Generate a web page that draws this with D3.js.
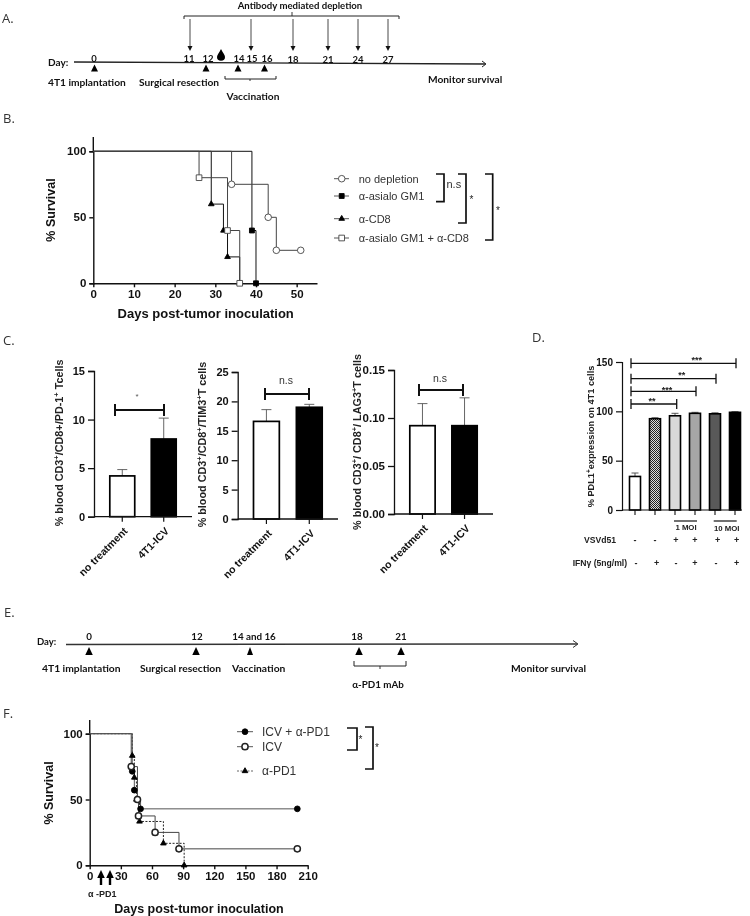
<!DOCTYPE html>
<html><head><meta charset="utf-8">
<script src="https://cdnjs.cloudflare.com/ajax/libs/d3/7.8.5/d3.min.js"></script>
<style>html,body{margin:0;padding:0;background:#fff}svg{display:block;filter:blur(0.35px)}</style>
</head><body><svg id="c" width="750" height="916"></svg>
<script>
// ---------- DATA ----------
const bTimes={none:[0,34,43,45,51],asialo:[0,39,40],cd8:[0,29,32,33,36],combo:[0,26,33,36]};
const bValues={none:[100,75,50,25,25],asialo:[100,40,0],cd8:[100,60,40,20,0],combo:[100,80,40,0]};
const bLegend=["no depletion","α-asialo GM1","α-CD8","α-asialo GM1 + α-CD8"];
const c1Values=[4.2,8.0], c1Errors=[4.85,10.15];
const c2Values=[16.6,19.0], c2Errors=[18.6,19.5];
const c3Values=[0.092,0.092], c3Errors=[0.115,0.121];
const cCats=["no treatment","4T1-ICV"];
const dValues=[34,92.5,95.5,98,97.5,99], dErrors=[37.5,93.5,98,99,98.5,99.6];
const dFills=["#fff","url(#chk)","#d9d9d9","#a6a6a6","#595959","#000"];
const dVsv=["-","-","+","+","+","+"], dIfn=["-","+","-","+","-","+"];
const dSig=["***","**","***","**"];
const fTimes={combo:[0,41,43,46,49,200],icv:[0,40,46,47,63,86,200],pd1:[0,41,43,45,48,71,91]};
const fValues={combo:[100,71.4,57.1,50,42.9,42.9],icv:[100,75,50,37.5,25,12.5,12.5],pd1:[100,83.3,66.7,50,33.3,16.7,0]};
const fLegend=["ICV + α-PD1","ICV","α-PD1"];
const aLabelDays=[0,11,12,14,15,16,18,21,24,27];
const aArrowDays=[11,15,18,21,24,27];
const aTriDays=[0,12,14,16];
const eLabelDays=["0","12","14 and 16","18","21"];

// ---------- HELPERS ----------
const svg=d3.select("#c");
const AR="'Liberation Sans',Arial,sans-serif", CAL="Lato,'Open Sans',sans-serif";
const defs=svg.append("defs");
const pat=defs.append("pattern").attr("id","chk").attr("width",2).attr("height",2).attr("patternUnits","userSpaceOnUse");
pat.append("rect").attr("width",2).attr("height",2).attr("fill","#ddd");
pat.append("rect").attr("width",1).attr("height",1).attr("fill","#222");
pat.append("rect").attr("x",1).attr("y",1).attr("width",1).attr("height",1).attr("fill","#222");
function T(x,y,s,o={}){const fs=o.s||11;const t=svg.append("text").attr("x",x).attr("y",y).attr("font-family",o.f||AR).attr("font-size",fs)
 .attr("font-weight",o.w||"normal").attr("fill",o.c||"#111").attr("text-anchor",o.a||"start");
 if(o.r!==undefined)t.attr("transform",`rotate(${o.r} ${x} ${y})`);
 const parts=Array.isArray(s)?s:[s];let back=false;
 parts.forEach(p=>{ if(typeof p==="string"){const ts=t.append("tspan").text(p);if(back){ts.attr("dy",fs*0.35);back=false;}}
   else{t.append("tspan").attr("dy",-fs*0.35).attr("font-size",fs*0.7).text(p.sup);back=true;}});
 return t;}
function L(x1,y1,x2,y2,w=1,c="#111",dash){const l=svg.append("line").attr("x1",x1).attr("y1",y1).attr("x2",x2).attr("y2",y2).attr("stroke",c).attr("stroke-width",w);if(dash)l.attr("stroke-dasharray",dash);return l;}
function Tri(x,yTop,w,h){svg.append("path").attr("d",d3.line()([[x-w/2,yTop+h],[x+w/2,yTop+h],[x,yTop]])+"Z").attr("fill","#000");}
function arrowDown(x,y1,y2){L(x,y1,x,y2-4,0.9,"#333");svg.append("path").attr("d",d3.line()([[x-2.5,y2-5],[x+2.5,y2-5],[x,y2]])+"Z").attr("fill","#111");}
function rightBracket(x1,x2,y1,y2,w=1.7){svg.append("path").attr("d",d3.line()([[x1,y1],[x2,y1],[x2,y2],[x1,y2]])).attr("fill","none").attr("stroke","#111").attr("stroke-width",w);}
function sigBar(x1,x2,y,h=5,w=1.6){L(x1,y,x2,y,w);L(x1,y-h,x1,y+h,w);L(x2,y-h,x2,y+h,w);}
function styleAxis(g,o){g.selectAll(".domain").attr("stroke","#111").attr("stroke-width",o.w||1.4);
 g.selectAll(".tick line").attr("stroke","#111").attr("stroke-width",o.w||1.4);
 g.selectAll("text").attr("font-family",AR).attr("font-size",o.s||11.5).attr("font-weight","bold").attr("fill","#111");}
const sym=(type,size)=>d3.symbol().type(type).size(size)();
function marker(kind,x,y,col){const m={
  circle:[d3.symbolCircle,34,"#fff",col], square:[d3.symbolSquare,32,"#fff",col],
  fsquare:[d3.symbolSquare,24,"#000","#000"], tri:[d3.symbolTriangle,14,"#000","#000"], fcircle:[d3.symbolCircle,26,"#000","#000"],
  ocircle:[d3.symbolCircle,30,"#fff","#222"]}[kind];
  svg.append("path").attr("d",sym(m[0],m[1])).attr("transform",`translate(${x},${y})`).attr("fill",m[2]).attr("stroke",m[3]).attr("stroke-width",kind==="ocircle"?1.5:0.9);}
function survival(times,vals,x,y,col,dash){
  const pts=times.map((t,i)=>[t,vals[i]]);
  const p=svg.append("path").attr("d",d3.line().x(d=>x(d[0])).y(d=>y(d[1])).curve(d3.curveStepAfter)(pts)).attr("fill","none").attr("stroke",col).attr("stroke-width",1);
  if(dash)p.attr("stroke-dasharray",dash);}
const lettersStyle={f:"'Open Sans',sans-serif",s:13,c:"#333"};
T(2,23,"A.",lettersStyle);T(3,123,"B.",lettersStyle);T(3,345,"C.",lettersStyle);T(532,342,"D.",lettersStyle);T(4,617,"E.",lettersStyle);T(3,718,"F.",lettersStyle);

// ---------- PANEL A ----------
const aX=d3.scaleLinear().domain([0,11,12,14,15,16,18,21,24,27]).range([94,189,208,239,252,267,293,328,358,388]);
const lab={f:CAL,w:"bold",s:10.2,c:"#111"};
T(300,9,"Antibody mediated depletion",{...lab,a:"middle",s:9.6});
svg.append("path").attr("d",d3.line()([[184,19],[184,16],[399,16],[399,19]])).attr("fill","none").attr("stroke","#222").attr("stroke-width",1);
L(292,12,292,16,0.9,"#222");
aArrowDays.forEach(d=>arrowDown(aX(d)+(d===11?1:(d===15?-1:0)),19,51));
L(74,62,485,64,1.4,"#222");
svg.append("path").attr("d","M482,61 L486,64 L482,67").attr("fill","none").attr("stroke","#222").attr("stroke-width",1);
aLabelDays.forEach(d=>T(aX(d),d<18?62:63,String(d),{...lab,a:"middle",s:9.5}));
T(48,66,"Day:",{...lab,s:10});
const aTriX={0:94.5,12:206,14:238,16:264.5};
aTriDays.forEach(d=>Tri(aTriX[d],64.5,7,7));
svg.append("path").attr("d","M221,49 C223,53 225,55 225,57 A4,3.8 0 1 1 217,57 C217,55 219,53 221,49Z").attr("fill","#000");
T(48,86,"4T1 implantation",lab);T(139,86,"Surgical resection",lab);T(428,83,"Monitor survival",lab);
svg.append("path").attr("d",d3.line()([[225,76],[225,79],[276,79],[276,76]])).attr("fill","none").attr("stroke","#222").attr("stroke-width",1);
L(250,79,250,81,0.9,"#222");
T(253,100,"Vaccination",{...lab,a:"middle"});

// ---------- PANEL B ----------
const bx=d3.scaleLinear().domain([0,55]).range([93.3,317]);
const by=d3.scaleLinear().domain([0,100]).range([283.3,151.3]);
styleAxis(svg.append("g").attr("transform","translate(0,283.3)").call(d3.axisBottom(bx).tickValues([0,10,20,30,40,50]).tickSize(4).tickSizeOuter(0)),{s:11.5});
styleAxis(svg.append("g").attr("transform","translate(93.3,0)").call(d3.axisLeft(by).tickValues([0,50,100]).tickSize(4)),{s:11.5});
L(93.3,151.3,93.3,137,1.4);
const bSeries=[["cd8","tri","#111"],["asialo","fsquare","#111"],["none","circle","#444"],["combo","square","#444"]];
const bMarks=[];
bSeries.forEach(([k,kind,col])=>{survival(bTimes[k],bValues[k],bx,by,col);
  bTimes[k].slice(1).forEach((t,i)=>bMarks.push([kind,bx(t),by(bValues[k][i+1]),col]));});
bMarks.forEach(m=>marker(...m));
T(205.7,318,"Days post-tumor inoculation",{s:13,w:"bold",a:"middle"});
T(55,210,"% Survival",{s:12.5,w:"bold",a:"middle",r:-90});
const bLegY=[178.7,196,218.7,238],bKinds=["circle","fsquare","tri","square"];
bLegend.forEach((s,i)=>{L(334,bLegY[i],349,bLegY[i],0.9,"#444");marker(bKinds[i],341.7,bLegY[i],"#444");T(358.7,bLegY[i]+4,s,{s:11,c:"#333"});});
rightBracket(436,444,174,201.7);rightBracket(458,466,174,223);rightBracket(485,492.7,174,240);
T(446.5,188,"n.s",{s:11,c:"#333"});T(469.5,203,"*",{s:10,c:"#222"});T(496,214,"*",{s:10,c:"#222"});

// ---------- PANEL C ----------
function barPanel(o){
  const y=d3.scaleLinear().domain([0,o.max]).range([o.y0,o.yTop]);
  const x=d3.scaleBand().domain(cCats).range([o.x0+o.pad,o.x1]).paddingInner(o.inner).paddingOuter(0);
  o.vals.forEach((v,i)=>{const bx=x(cCats[i]),w=x.bandwidth(),c=bx+w/2;
    L(c,y(v),c,y(o.errs[i]),0.9,"#555");L(c-5,y(o.errs[i]),c+5,y(o.errs[i]),0.9,"#555");
    svg.append("rect").attr("x",bx+.8).attr("y",y(v)).attr("width",w-1.6).attr("height",o.y0-y(v)).attr("fill",i?"#000":"#fff").attr("stroke","#000").attr("stroke-width",1.7);
    L(c,o.y0,c,o.y0+5,1.2);
    T(c+6,o.y0+15,cCats[i],{s:10.5,w:"bold",a:"end",r:-45});
  });
  const g=svg.append("g").attr("transform",`translate(${o.x0},0)`).call(d3.axisLeft(y).tickValues(o.ticks).tickFormat(o.fmt).tickSize(6));
  styleAxis(g,{s:o.ts,w:1.3});
  L(o.x0,o.y0,o.xEnd,o.y0,1.3);
  T(o.lx,(o.y0+o.yTop)/2+o.ly,o.label,{s:o.ls,a:"middle",r:-90,c:"#222",w:"bold"});
}
barPanel({x0:94,x1:177,pad:15,inner:.36,xEnd:192,y0:516.7,yTop:371,max:15,vals:c1Values,errs:c1Errors,ticks:[0,5,10,15],fmt:d3.format("d"),ts:11,lx:63,ly:-1,ls:10.8,
  label:["% blood CD3",{sup:"+"},"/CD8+/PD-1",{sup:"+"}," Tcells"]});
sigBar(115,164,410,6,2);T(137,399,"*",{s:8,c:"#555",a:"middle"});
barPanel({x0:237.7,x1:323,pad:15,inner:.36,xEnd:338,y0:519,yTop:372,max:25,vals:c2Values,errs:c2Errors,ticks:[0,5,10,15,20,25],fmt:d3.format("d"),ts:11,lx:206,ly:-1,ls:10.8,
  label:["% blood CD3",{sup:"+"},"/CD8",{sup:"+"},"/TIM3",{sup:"+"},"T cells"]});
sigBar(265,309,394,6,2);T(286,384,"n.s",{s:10.5,c:"#333",a:"middle"});
barPanel({x0:394,x1:478,pad:15,inner:.36,xEnd:493,y0:514,yTop:370,max:.15,vals:c3Values,errs:c3Errors,ticks:[0,.05,.10,.15],fmt:d3.format(".2f"),ts:11.5,lx:361,ly:0,ls:10.8,
  label:["% blood CD3",{sup:"+"},"/ CD8",{sup:"+"},"/ LAG3",{sup:"+"},"T cells"]});
sigBar(419,463,390,6,2);T(440,382,"n.s",{s:10.5,c:"#333",a:"middle"});

// ---------- PANEL D ----------
const dIdx=d3.range(dValues.length);
const dx=d3.scaleBand().domain(dIdx).range([621.5,748.5]).padding(0.35);
const dy=d3.scaleLinear().domain([0,150]).range([510,362]);
dValues.forEach((v,i)=>{const c=dx(i)+dx.bandwidth()/2;
  L(c,dy(v),c,dy(dErrors[i]),0.9,"#444");L(c-3.5,dy(dErrors[i]),c+3.5,dy(dErrors[i]),0.9,"#444");
  svg.append("rect").attr("x",dx(i)+1).attr("y",dy(v)).attr("width",dx.bandwidth()-2).attr("height",510-dy(v)).attr("fill",dFills[i]).attr("stroke","#000").attr("stroke-width",1.6);
  L(c,510,c,515,1.1);
});
styleAxis(svg.append("g").attr("transform","translate(622,0)").call(d3.axisLeft(dy).tickValues([0,50,100,150]).tickSize(6)),{s:10,w:1.2});
L(622,510,742,510,1.2);
T(594,436.5,["% PDL1",{sup:"+"},"expression on 4T1 cells"],{s:9.2,a:"middle",r:-90,w:"bold",c:"#222"});
const sigY=[363.3,378.7,391.3,404],sigEnd=[736,716,696,676.7],sigStar=[[696.7,364],[681.7,379],[667,394],[652,405]];
dSig.forEach((s,i)=>{sigBar(631,sigEnd[i],sigY[i],5,1.3);T(sigStar[i][0],sigStar[i][1]-1,s,{s:9,w:"bold",a:"middle",c:"#222"});});
L(674,521,697,521,1.2);L(713.7,521,736.7,521,1.2);
T(686,530,"1 MOI",{s:7.8,w:"bold",a:"middle",c:"#222"});T(726.7,531,"10 MOI",{s:7.8,w:"bold",a:"middle",c:"#222"});
T(584,543,"VSVd51",{s:8.6,w:"bold",c:"#222"});T(572.7,566,"IFNγ (5ng/ml)",{s:8.6,w:"bold",c:"#222"});
const vsvX=[635,655,676,695,717.7,736.7],ifnX=[636,656.7,676,695,716,736.7];
dVsv.forEach((s,i)=>T(vsvX[i],543,s,{s:9,w:"bold",a:"middle",c:"#222"}));
dIfn.forEach((s,i)=>T(ifnX[i],566,s,{s:9,w:"bold",a:"middle",c:"#222"}));

// ---------- PANEL E ----------
const eLabelX=[89,197,254,357,401], eTriX=[89,196,250,359,401];
const labE={f:CAL,w:"bold",s:10.3,c:"#111"};
L(66,644.5,577,644,1.4,"#333");
svg.append("path").attr("d","M573,640.5 L578,644 L573,647.5").attr("fill","none").attr("stroke","#333").attr("stroke-width",1);
T(37,645,"Day:",{...labE,s:9.5});
eLabelDays.forEach((s,i)=>T(eLabelX[i],640,s,{...labE,a:"middle",s:9.8}));
eTriX.forEach((x,i)=>Tri(x,647,i===2?6:7.5,8));
T(42,672,"4T1 implantation",labE);T(140,672,"Surgical resection",labE);T(232,672,"Vaccination",labE);T(511,672,"Monitor survival",labE);
T(378,688,"α-PD1 mAb",{...labE,a:"middle",s:9.8});
svg.append("path").attr("d",d3.line()([[354,661],[354,666],[406,666],[406,661]])).attr("fill","none").attr("stroke","#222").attr("stroke-width",1);
L(380,666,380,669,0.9,"#222");

// ---------- PANEL F ----------
const fx=d3.scaleLinear().domain([0,210]).range([89.7,307.7]);
const fy=d3.scaleLinear().domain([0,100]).range([865.3,733.7]);
styleAxis(svg.append("g").attr("transform","translate(0,865.3)").call(d3.axisBottom(fx).tickValues([0,30,60,90,120,150,180,210]).tickSize(4).tickSizeOuter(0)),{s:11.5});
styleAxis(svg.append("g").attr("transform","translate(89.7,0)").call(d3.axisLeft(fy).tickValues([0,50,100]).tickSize(4)),{s:11.5});
L(89.7,733.7,89.7,720,1.4);
survival(fTimes.pd1,fValues.pd1,fx,fy,"#222","2,1.5");
survival(fTimes.icv,fValues.icv,fx,fy,"#444");
survival(fTimes.combo,fValues.combo,fx,fy,"#555");
fTimes.pd1.slice(1).forEach((t,i)=>marker("tri",fx(t),fy(fValues.pd1[i+1]),"#000"));
fTimes.combo.slice(1).forEach((t,i)=>marker("fcircle",fx(t),fy(fValues.combo[i+1]),"#000"));
fTimes.icv.slice(1).forEach((t,i)=>marker("ocircle",fx(t),fy(fValues.icv[i+1]),"#222"));
[101,110].forEach(x=>{L(x,876,x,885,2.4,"#000");svg.append("path").attr("d",d3.line()([[x-3.8,878],[x+3.8,878],[x,870]])+"Z").attr("fill","#000");});
T(88,897,"α -PD1",{s:9,w:"bold",c:"#222"});
T(199,913,"Days post-tumor inoculation",{s:12.5,w:"bold",a:"middle"});
T(52.7,793,"% Survival",{s:12.5,w:"bold",a:"middle",r:-90});
const fLegY=[731.7,746.7,771],fKinds=["fcircle","ocircle","tri"];
fLegend.forEach((s,i)=>{L(237,fLegY[i],253,fLegY[i],0.9,i===2?"#555":"#444",i===2?"2,1.5":null);marker(fKinds[i],245,fLegY[i],"#222");T(262,fLegY[i]+4,s,{s:12,c:"#333"});});
rightBracket(347,357,728,750);rightBracket(365,373,727,769);
T(358.5,743,"*",{s:10,c:"#222"});T(375,751,"*",{s:10,c:"#222"});
</script></body></html>
